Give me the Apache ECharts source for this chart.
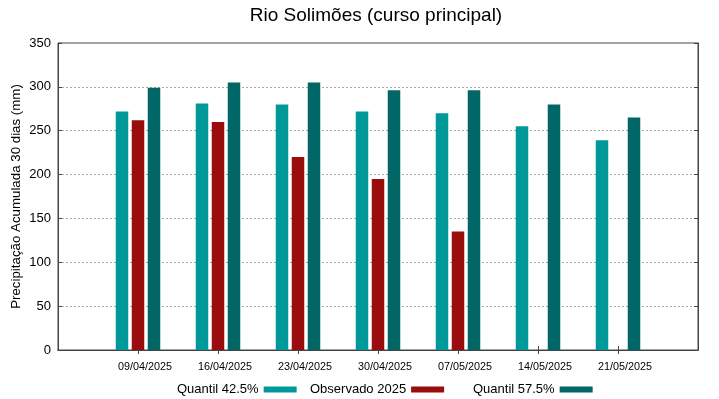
<!DOCTYPE html>
<html>
<head>
<meta charset="utf-8">
<script src="https://cdn.jsdelivr.net/npm/echarts@6/dist/echarts.min.js"></script>
<style>
	html, body { margin: 0; padding: 0; background: #fff; }
	#main { width: 719px; height: 399px; }
</style>
</head>
<body>
<div id="main"></div>
<script>
	// datas (blank slots at both ends give the gnuplot-like padding)
	var datas = ['', '09/04/2025', '16/04/2025', '23/04/2025', '30/04/2025', '07/05/2025', '14/05/2025', '21/05/2025', ''];
	var quantil425 = [null, 272, 281, 280, 272, 270, 255, 239, null];
	var observado = [null, 262, 260, 220, 195, 135, null, null, null];
	var quantil575 = [null, 299, 305, 305, 296, 296, 280, 265, null];
	var yTicks = [0, 50, 100, 150, 200, 250, 300, 350];

	var fonte = 'Liberation Sans, Arial, sans-serif';
	var myChart = echarts.init(document.getElementById('main'));

	function legenda(nome, left) {
		return {
			data: [nome],
			left: left,
			top: 383,
			padding: 0,
			align: 'right',
			icon: 'rect',
			itemWidth: 33,
			itemHeight: 6,
			textStyle: { fontFamily: fonte, fontSize: 13, color: '#000' }
		};
	}

	var tickX = function (idx) { return idx > 0 && idx < datas.length - 1; };

	option = {
		animation: false,
		graphic: [{
			type: 'text',
			x: 376,
			y: 16,
			style: {
				text: 'Rio Solimões (curso principal)',
				fontFamily: fonte, fontSize: 19, fill: '#000',
				textAlign: 'center', textVerticalAlign: 'middle'
			}
		}],
		legend: [
			legenda('Quantil 42.5%', 177),
			legenda('Observado 2025', 310),
			legenda('Quantil 57.5%', 473)
		],
		grid: {
			left: 58, right: 21, top: 43, bottom: 49,
			show: true, borderColor: '#444', borderWidth: 1
		},
		xAxis: [
			{
				type: 'category',
				data: datas,
				boundaryGap: false,
				axisLine: { lineStyle: { color: '#444' } },
				axisTick: { inside: true, length: 4, interval: tickX, lineStyle: { color: '#444' } },
				axisLabel: {
					interval: 0, fontFamily: fonte, fontSize: 10.8, color: '#000',
					margin: 12, padding: [0, 0, 0, 14]
				}
			},
			{
				type: 'category',
				data: datas,
				boundaryGap: false,
				position: 'top',
				axisLine: { lineStyle: { color: '#444' } },
				axisTick: { inside: true, length: 4, interval: tickX, lineStyle: { color: '#444' } },
				axisLabel: { show: false }
			}
		],
		yAxis: [
			{
				type: 'value',
				min: 0, max: 350, interval: 50,
				name: 'Precipitação Acumulada 30 dias (mm)',
				nameLocation: 'middle',
				nameGap: 35,
				nameMoveOverlap: false,
				nameTextStyle: { fontFamily: fonte, fontSize: 13.3, color: '#000' },
				axisLine: { show: true, lineStyle: { color: '#444' } },
				axisTick: { show: true, inside: true, length: 4, lineStyle: { color: '#444' } },
				axisLabel: {
					fontFamily: fonte, fontSize: 13, color: '#000', margin: 7,
					formatter: function (v) { return yTicks.indexOf(v) >= 0 ? v : ''; }
				},
				splitLine: { show: true, lineStyle: { color: '#aaa', type: [2, 2], width: 1 } }
			},
			{
				type: 'value',
				min: 0, max: 350, interval: 50,
				position: 'right',
				axisLine: { show: true, lineStyle: { color: '#444' } },
				axisTick: { show: true, inside: true, length: 4, lineStyle: { color: '#444' } },
				axisLabel: { show: false },
				splitLine: { show: false }
			}
		],
		series: [
			{
				name: 'Quantil 42.5%',
				type: 'bar',
				barWidth: 12.5,
				barGap: '28%',
				itemStyle: { color: '#009999' },
				data: quantil425
			},
			{
				name: 'Observado 2025',
				type: 'bar',
				barWidth: 12.5,
				barGap: '28%',
				itemStyle: { color: '#990d0d' },
				data: observado
			},
			{
				name: 'Quantil 57.5%',
				type: 'bar',
				barWidth: 12.5,
				barGap: '28%',
				itemStyle: { color: '#006666' },
				data: quantil575
			}
		]
	};
	myChart.setOption(option);
</script>
</body>
</html>
